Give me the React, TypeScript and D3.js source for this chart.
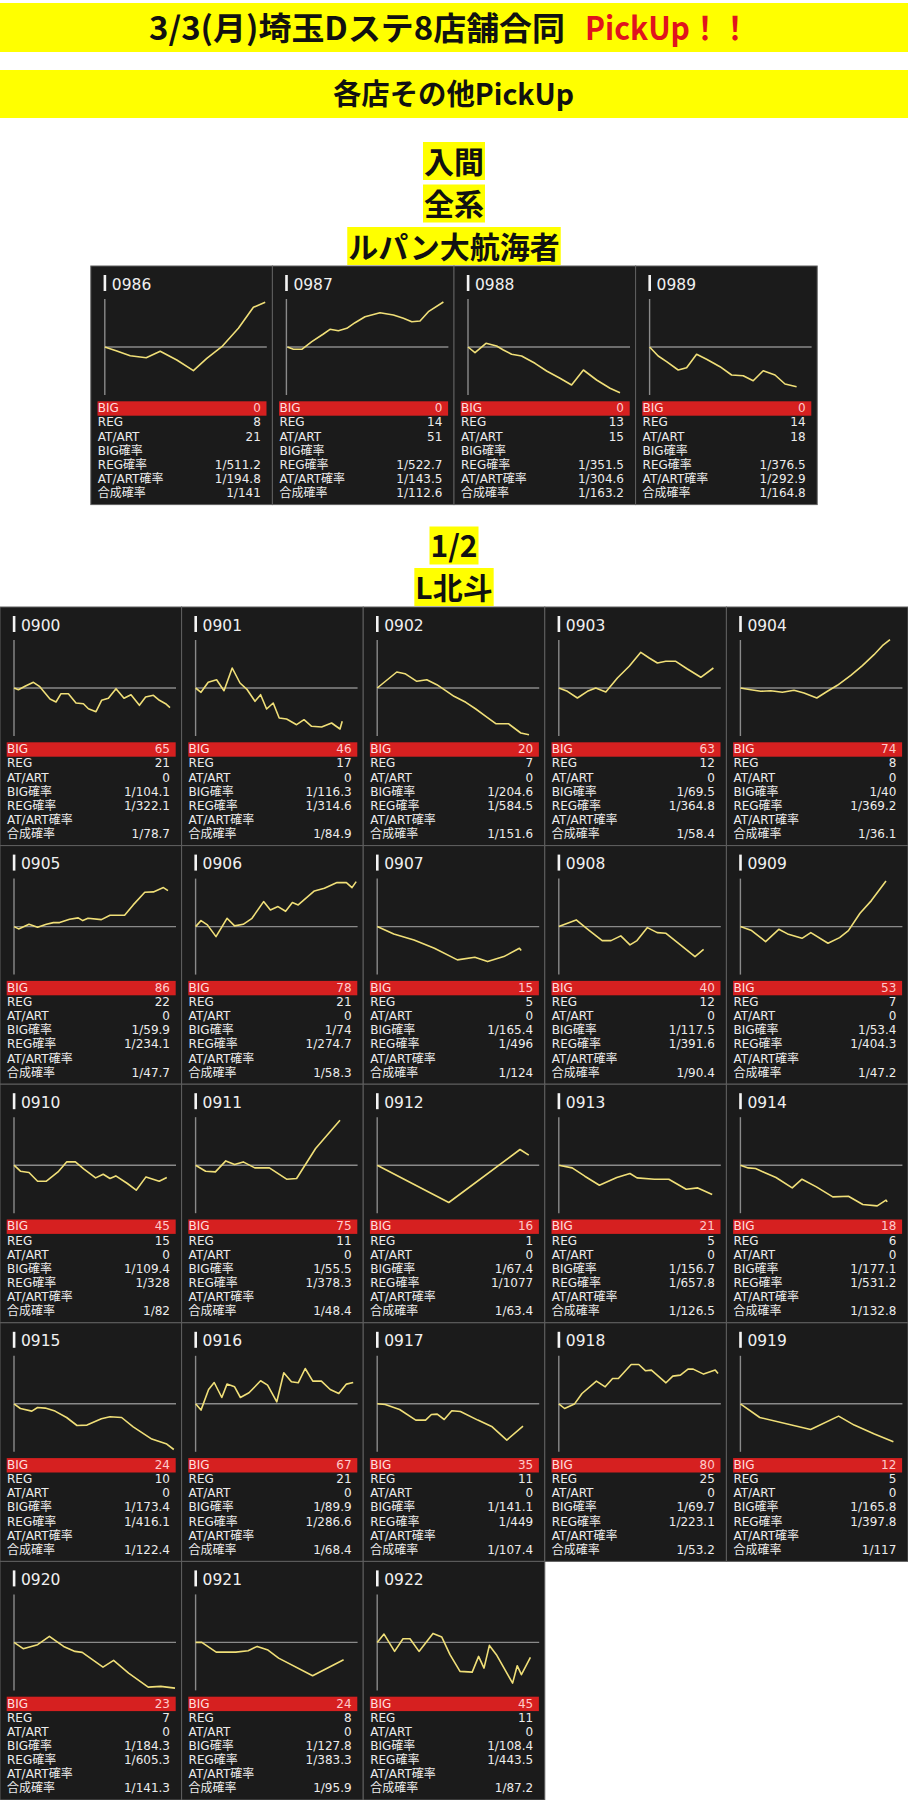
import React, { useLayoutEffect, useRef } from 'react';
import * as d3 from 'd3';

const W = 908;
const H = 1800;
const COL_W = 181.6;
const ROW_H = 238.6;

const titleMain = "3/3(月)埼玉Dステ8店舗合同";
const titleAccent = "PickUp！！";
const subTitle = "各店その他PickUp";

const statLabels = ["BIG", "REG", "AT/ART", "BIG確率", "REG確率", "AT/ART確率", "合成確率"];

// ---- 入間 / 全系 / ルパン大航海者
const lupinHeadings = ["入間", "全系", "ルパン大航海者"];
const lupinIds = ["0986", "0987", "0988", "0989"];
const lupinBig = [0, 0, 0, 0];
const lupinReg = [8, 14, 13, 14];
const lupinArt = [21, 51, 15, 18];
const lupinBigProb = ["", "", "", ""];
const lupinRegProb = ["1/511.2", "1/522.7", "1/351.5", "1/376.5"];
const lupinArtProb = ["1/194.8", "1/143.5", "1/304.6", "1/292.9"];
const lupinTotalProb = ["1/141", "1/112.6", "1/163.2", "1/164.8"];
// [games, medals]
const lupinSeries: [number, number][][] = [
  [[0, 0], [600, -400], [1270, -870], [2070, -1070], [2770, -430], [3600, -1300], [4430, -2370], [5100, -1130], [5850, 30], [6680, 1870], [7430, 3970], [8020, 4470]],
  [[50, 0], [350, -230], [770, -230], [1270, 530], [1850, 1300], [2180, 1770], [2600, 1630], [3020, 1870], [3430, 2430], [3930, 3030], [4680, 3430], [5350, 3200], [5850, 2870], [6270, 2530], [6680, 2600], [7100, 3530], [7850, 4500]],
  [[0, 0], [350, -570], [900, 370], [1430, 100], [1770, -300], [2180, -730], [2680, -900], [3350, -1630], [3930, -2400], [4600, -3130], [5180, -3800], [5770, -2300], [6430, -3300], [7100, -4130], [7600, -4570]],
  [[0, 0], [430, -900], [850, -1470], [1430, -2300], [1850, -2070], [2350, -730], [2850, -1230], [3520, -1970], [4100, -2800], [4680, -2870], [5180, -3370], [5680, -2370], [6270, -2800], [6770, -3700], [7350, -3970]],
];

// ---- 1/2 L北斗
const hokutoHeadings = ["1/2", "L北斗"];
const hokutoIds = ["0900", "0901", "0902", "0903", "0904", "0905", "0906", "0907", "0908", "0909", "0910", "0911", "0912", "0913", "0914", "0915", "0916", "0917", "0918", "0919", "0920", "0921", "0922"];
const hokutoBig = [65, 46, 20, 63, 74, 86, 78, 15, 40, 53, 45, 75, 16, 21, 18, 24, 67, 35, 80, 12, 23, 24, 45];
const hokutoReg = [21, 17, 7, 12, 8, 22, 21, 5, 12, 7, 15, 11, 1, 5, 6, 10, 21, 11, 25, 5, 7, 8, 11];
const hokutoArt = [0, 0, 0, 0, 0, 0, 0, 0, 0, 0, 0, 0, 0, 0, 0, 0, 0, 0, 0, 0, 0, 0, 0];
const hokutoBigProb = ["1/104.1", "1/116.3", "1/204.6", "1/69.5", "1/40", "1/59.9", "1/74", "1/165.4", "1/117.5", "1/53.4", "1/109.4", "1/55.5", "1/67.4", "1/156.7", "1/177.1", "1/173.4", "1/89.9", "1/141.1", "1/69.7", "1/165.8", "1/184.3", "1/127.8", "1/108.4"];
const hokutoRegProb = ["1/322.1", "1/314.6", "1/584.5", "1/364.8", "1/369.2", "1/234.1", "1/274.7", "1/496", "1/391.6", "1/404.3", "1/328", "1/378.3", "1/1077", "1/657.8", "1/531.2", "1/416.1", "1/286.6", "1/449", "1/223.1", "1/397.8", "1/605.3", "1/383.3", "1/443.5"];
const hokutoArtProb = hokutoIds.map(() => "");
const hokutoTotalProb = ["1/78.7", "1/84.9", "1/151.6", "1/58.4", "1/36.1", "1/47.7", "1/58.3", "1/124", "1/90.4", "1/47.2", "1/82", "1/48.4", "1/63.4", "1/126.5", "1/132.8", "1/122.4", "1/68.4", "1/107.4", "1/53.2", "1/117", "1/141.3", "1/95.9", "1/87.2"];
const hokutoSeries: [number, number][][] = [
  [[0, 0], [220, -170], [550, 170], [970, 570], [1270, 170], [1550, -500], [1800, -1100], [2100, -1400], [2350, -570], [2720, -570], [3100, -1500], [3470, -1570], [3720, -2070], [4100, -2370], [4380, -1230], [4720, -1030], [5100, -70], [5500, -1030], [5850, -670], [6270, -1730], [6580, -900], [6970, -730], [7270, -1230], [7580, -1570], [7800, -1970]],
  [[0, 0], [270, -430], [630, 570], [1050, 830], [1420, -270], [1830, 2000], [2220, 500], [2580, -170], [2970, -1330], [3250, -670], [3550, -2100], [3880, -1500], [4180, -3000], [4550, -3100], [5050, -3670], [5420, -3170], [5800, -3830], [6300, -3900], [6800, -3500], [7220, -4100], [7330, -3330]],
  [[0, 0], [980, 1600], [1390, 1430], [1980, 670], [2480, 830], [2980, 330], [3480, -330], [3840, -830], [4430, -1430], [4930, -2100], [5430, -2830], [5930, -3570], [6560, -3570], [7180, -4500], [7590, -4670]],
  [[0, 0], [430, -330], [930, -1000], [1430, -330], [1850, 0], [2350, -400], [2930, 1000], [3520, 2170], [4100, 3570], [4520, 3000], [4930, 2500], [5350, 2670], [5850, 2670], [6430, 1900], [7100, 1070], [7730, 2000]],
  [[0, 0], [520, -170], [1020, -330], [1520, -270], [2100, -430], [2680, -230], [3180, -500], [3820, -1000], [4350, -330], [4850, 270], [5520, 1270], [6100, 2230], [6680, 3330], [7100, 4230], [7480, 4830]],
  [[0, 0], [230, -230], [750, 230], [1180, -70], [1620, 230], [1970, 400], [2280, 400], [2780, 730], [3210, 870], [3440, 600], [3700, 830], [4370, 700], [4800, 1130], [5530, 1130], [5960, 2170], [6540, 3430], [6970, 3470], [7470, 3900], [7700, 3600]],
  [[0, 0], [270, 600], [590, 170], [1020, -1000], [1570, 830], [1950, 70], [2380, 230], [2820, 830], [3400, 2500], [3740, 1670], [4120, 2000], [4500, 1530], [4840, 2400], [5130, 2170], [5940, 3570], [6440, 3830], [7070, 4400], [7540, 4400], [7820, 3900], [8030, 4500]],
  [[0, 0], [830, -730], [1840, -1330], [2860, -2170], [4010, -3330], [4880, -3070], [5520, -3500], [6330, -3000], [7110, -2170], [7200, -2400]],
  [[0, 0], [870, 670], [1450, -270], [2170, -1400], [2610, -1400], [3100, -930], [3560, -1830], [3910, -1400], [4430, -100], [4920, -600], [5360, -670], [6080, -1830], [6810, -3000], [7240, -2270]],
  [[0, 0], [560, -400], [1260, -1500], [1920, -270], [2360, -730], [3080, -1170], [3520, -600], [4380, -1670], [4960, -1100], [5400, -400], [5980, 1330], [6550, 2600], [7280, 4570]],
  [[0, 0], [320, -600], [750, -730], [1180, -1600], [1620, -1600], [2200, -670], [2630, 330], [3070, 330], [3500, -400], [4080, -1270], [4460, -900], [4800, -1330], [5090, -1070], [5670, -1830], [6110, -2500], [6600, -1170], [7260, -1600], [7640, -1230]],
  [[0, 0], [500, -600], [990, -670], [1510, 430], [1950, 70], [2380, 330], [2960, -270], [3690, -270], [4550, -1400], [5050, -1330], [6000, 1670], [7220, 4500]],
  [[0, 0], [3580, -3730], [7140, 1570], [7580, 1000]],
  [[0, 0], [670, -270], [1300, -1100], [2030, -2000], [2900, -1230], [3560, -830], [3910, -1270], [4780, -1400], [5500, -1400], [6370, -2400], [6950, -2270], [7670, -2930]],
  [[0, 0], [390, -270], [760, -330], [1200, -730], [1780, -1230], [2590, -2270], [3080, -1400], [3800, -2170], [4620, -3170], [5400, -3100], [6120, -3930], [6840, -4070], [7280, -3500], [7340, -3670]],
  [[0, 0], [320, -470], [890, -730], [1180, -370], [1560, -430], [2050, -730], [2630, -1370], [3150, -2170], [3650, -2130], [4370, -1500], [4800, -1300], [5380, -1370], [5960, -2300], [6890, -3530], [7640, -4030], [7990, -4570]],
  [[0, 0], [270, -630], [650, 1430], [930, 2130], [1310, 630], [1570, 1970], [1950, 1700], [2240, 630], [2670, 1100], [3250, 2300], [3600, 1870], [4060, 200], [4410, 3100], [4790, 2200], [5130, 2100], [5480, 3530], [5860, 2270], [6290, 2270], [6730, 1430], [7160, 1030], [7540, 1970], [7880, 2130]],
  [[0, 0], [400, -70], [1120, -570], [1930, -1630], [2420, -1630], [2710, -1070], [3000, -1030], [3350, -1570], [3730, -700], [4160, -770], [5030, -1630], [5750, -2300], [6480, -3630], [7290, -2230]],
  [[0, 0], [290, -470], [780, -30], [1160, 1030], [1880, 2270], [2320, 1700], [2690, 2530], [2980, 2530], [3620, 3930], [4000, 3930], [4340, 3300], [4630, 3370], [5360, 2100], [5700, 2770], [6080, 2870], [6460, 3470], [6720, 3470], [7240, 2970], [7820, 3370], [7960, 3030]],
  [[0, 0], [970, -1370], [3510, -2570], [4910, -1230], [5690, -2130], [6700, -3030], [7650, -3800]],
  [[0, 0], [460, -630], [1180, -230], [1770, 600], [2480, -400], [3050, -900], [3410, -1000], [4450, -2470], [4980, -1800], [5730, -3070], [6710, -4470], [7340, -4400], [8050, -4570]],
  [[0, 0], [310, 0], [1030, -970], [2010, -970], [2630, -830], [3080, -400], [3620, -770], [4150, -1570], [5850, -3330], [7400, -1730]],
  [[0, 0], [340, 830], [870, -900], [1290, 370], [1640, 370], [2090, -900], [2790, 900], [3230, 530], [3640, -1230], [4140, -2900], [4750, -2970], [5070, -1400], [5340, -2570], [5610, -300], [5960, -1230], [6770, -4070], [7000, -2330], [7210, -3230], [7660, -1500]],
];

const xScale = d3.scaleLinear().domain([0, 8100]).range([14, 176]);
const yScale = d3.scaleLinear().domain([-4800, 4800]).range([129, 33]);
const lineGen = d3.line<[number, number]>().x(d => xScale(d[0])).y(d => yScale(d[1]));

const panelFont = "'DejaVu Sans', 'Noto Sans CJK JP', sans-serif";
const headFont = "'Noto Sans CJK JP', sans-serif";

type PanelProps = { id: string; stats: string[]; series: [number, number][]; x: number; y: number };

const Panel = ({ id, stats, series, x, y }: PanelProps) => (
  <g transform={`translate(${x},${y})`}>
    <rect width={COL_W} height={ROW_H} fill="#1b1b1b" stroke="#5f5f5f" strokeWidth={1} />
    <rect x={12.8} y={9} width={2.6} height={16} fill="#f4f4f4" />
    <text x={21} y={23.5} fill="#f0f0f0" fontSize={15.5} fontFamily={panelFont}>{id}</text>
    <line x1={14} x2={14} y1={33} y2={129} stroke="#8a8a8a" strokeWidth={1.4} />
    <line x1={14} x2={176} y1={yScale(0)} y2={yScale(0)} stroke="#8a8a8a" strokeWidth={1.4} />
    <path d={lineGen(series) || ""} fill="none" stroke="#f0df78" strokeWidth={1.6} strokeLinejoin="round" />
    <rect x={6.7} y={135.3} width={169} height={14.4} fill="#d62020" />
    {statLabels.map((lab, i) => (
      <g key={lab} fontSize={12} fontFamily={panelFont}>
        <text x={7} y={146.2 + i * 14.15} fill={i === 0 ? "#ffdede" : "#ececec"}>{lab}</text>
        <text x={170} y={146.2 + i * 14.15} textAnchor="end" fill={i === 0 ? "#ffcaca" : "#ececec"}>{stats[i]}</text>
      </g>
    ))}
  </g>
);

const Heading = ({ text, baseline }: { text: string; baseline: number }) => (
  <g className="hl">
    <rect y={baseline - 30.5} height={38} fill="#ffff00" />
    <text x={W / 2} y={baseline} textAnchor="middle" fontSize={30} fontWeight={700} fontFamily={headFont} fill="#111">{text}</text>
  </g>
);

export default function App() {
  const svgRef = useRef<SVGSVGElement | null>(null);

  useLayoutEffect(() => {
    document.body.style.margin = "0";
    if (!svgRef.current) return;
    d3.select(svgRef.current).selectAll<SVGGElement, unknown>("g.hl").each(function () {
      const g = d3.select(this);
      const t = g.select<SVGTextElement>("text").node();
      if (!t) return;
      const w = t.getComputedTextLength();
      g.select("rect").attr("x", W / 2 - w / 2 - 1).attr("width", w + 2);
    });
  }, []);

  const lupinTop = 266;
  const lupinLeft = (W - COL_W * 4) / 2;
  const hokutoTop = 607;

  return (
    <svg ref={svgRef} width={W} height={H} viewBox={`0 0 ${W} ${H}`} style={{ display: "block", background: "#fff" }}>
      <rect x={0} y={3} width={W} height={49} fill="#ffff00" />
      <text x={149} y={40} fontSize={32} fontWeight={700} fontFamily={headFont} fill="#111" textLength={416} lengthAdjust="spacingAndGlyphs">{titleMain}</text>
      <text x={585} y={40} fontSize={32} fontWeight={700} fontFamily={headFont} fill="#e0141e" textLength={165} lengthAdjust="spacingAndGlyphs">{titleAccent}</text>

      <rect x={0} y={70} width={W} height={48} fill="#ffff00" />
      <text x={453.5} y={105} textAnchor="middle" fontSize={29} fontWeight={700} fontFamily={headFont} fill="#111" textLength={241} lengthAdjust="spacingAndGlyphs">{subTitle}</text>

      {lupinHeadings.map((h, i) => <Heading key={h} text={h} baseline={172.5 + i * 42.5} />)}
      {lupinIds.map((id, i) => (
        <Panel key={id} id={id} x={lupinLeft + i * COL_W} y={lupinTop} series={lupinSeries[i]}
          stats={[String(lupinBig[i]), String(lupinReg[i]), String(lupinArt[i]), lupinBigProb[i], lupinRegProb[i], lupinArtProb[i], lupinTotalProb[i]]} />
      ))}

      {hokutoHeadings.map((h, i) => <Heading key={h} text={h} baseline={557 + i * 41.5} />)}
      {hokutoIds.map((id, i) => (
        <Panel key={id} id={id} x={(i % 5) * COL_W} y={hokutoTop + Math.floor(i / 5) * ROW_H} series={hokutoSeries[i]}
          stats={[String(hokutoBig[i]), String(hokutoReg[i]), String(hokutoArt[i]), hokutoBigProb[i], hokutoRegProb[i], hokutoArtProb[i], hokutoTotalProb[i]]} />
      ))}
    </svg>
  );
}
